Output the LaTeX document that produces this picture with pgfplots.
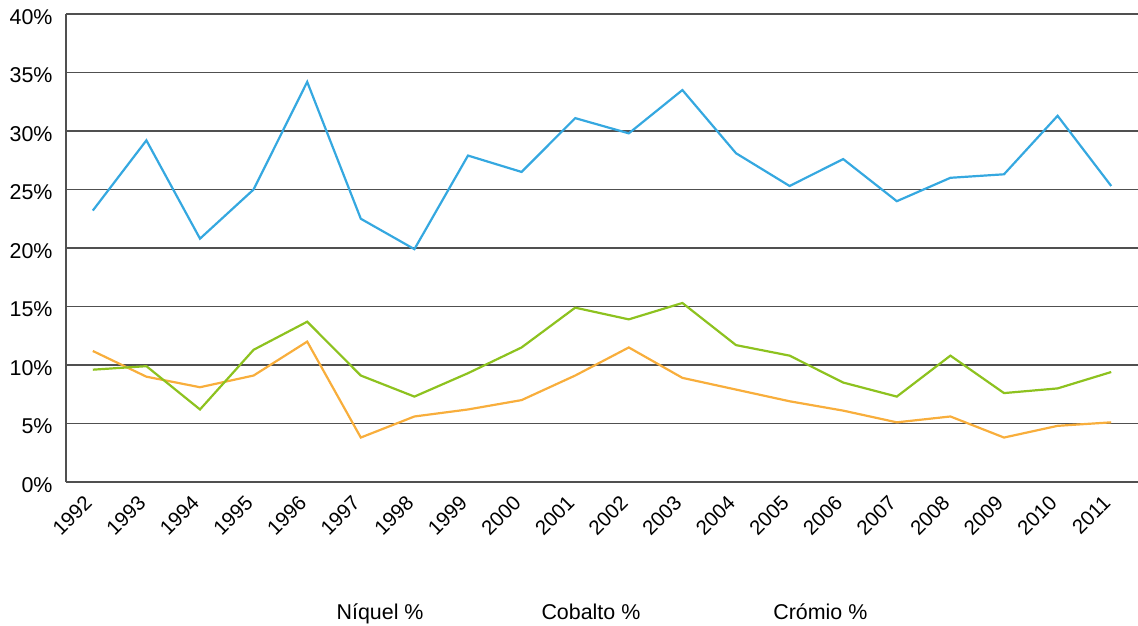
\documentclass[border=0pt]{standalone}
\usepackage{pgfplots}
\pgfplotsset{compat=1.18}
\usepackage{fontspec}
\setmainfont{Liberation Sans}
\definecolor{cblue}{HTML}{35A8E0}
\definecolor{cgreen}{HTML}{8DC21F}
\definecolor{corange}{HTML}{F8AE3C}
\definecolor{cgrid}{HTML}{505050}
\begin{document}
\begin{tikzpicture}
\begin{axis}[
  scale only axis,
  width=1072bp, height=468bp,
  xmin=-0.5, xmax=19.5,
  ymin=0, ymax=40,
  xtick={0,...,19},
  xticklabels={1992,1993,1994,1995,1996,1997,1998,1999,2000,2001,2002,2003,2004,2005,2006,2007,2008,2009,2010,2011},
  ytick={0,5,...,40},
  yticklabel={\pgfmathprintnumber{\tick}\%},
  /pgf/number format/assume math mode=true,
  axis x line=bottom, axis y line=left,
  axis line style={cgrid, line width=1.4bp, -},
  major tick length=0pt,
  ymajorgrids,
  grid style={cgrid, line width=1.4bp},
  tick label style={font=\fontsize{21.5}{25}\selectfont},
  xticklabel style={font=\fontsize{20.5}{24}\selectfont, xshift=-2bp, yshift=-15bp, rotate=45, anchor=east},
  yticklabel style={xshift=-10bp, yshift=-3bp},
  legend columns=3,
  legend style={at={(0.5,-0.278)}, anchor=center, draw=none, fill=none,
    font=\fontsize{21.5}{25}\selectfont,
    /tikz/column 2/.style={column sep=114bp},
    /tikz/column 4/.style={column sep=129bp}},
  legend image code/.code={},
  every axis plot/.append style={line width=2.2bp, mark=none, line join=miter},
]
\addplot[cblue] coordinates {
(0,23.2) (1,29.2) (2,20.8) (3,25.0) (4,34.2) (5,22.5) (6,19.9) (7,27.9) (8,26.5) (9,31.1)
(10,29.8) (11,33.5) (12,28.1) (13,25.3) (14,27.6) (15,24.0) (16,26.0) (17,26.3) (18,31.3) (19,25.3)};
\addlegendentry{Níquel \%}
\addplot[corange] coordinates {
(0,11.2) (1,9.0) (2,8.1) (3,9.1) (4,12.0) (5,3.8) (6,5.6) (7,6.2) (8,7.0) (9,9.1)
(10,11.5) (11,8.9) (12,7.9) (13,6.9) (14,6.1) (15,5.1) (16,5.6) (17,3.8) (18,4.8) (19,5.1)};
\addlegendentry{Cobalto \%}
\addplot[cgreen] coordinates {
(0,9.6) (1,9.9) (2,6.2) (3,11.3) (4,13.7) (5,9.1) (6,7.3) (7,9.3) (8,11.5) (9,14.9)
(10,13.9) (11,15.3) (12,11.7) (13,10.8) (14,8.5) (15,7.3) (16,10.8) (17,7.6) (18,8.0) (19,9.4)};
\addlegendentry{Crómio \%}
\end{axis}
\pgfresetboundingbox
\path (current axis.south west) ++(-66bp,-144bp) rectangle ([yshift=14bp]current axis.north east);
\end{tikzpicture}
\end{document}
